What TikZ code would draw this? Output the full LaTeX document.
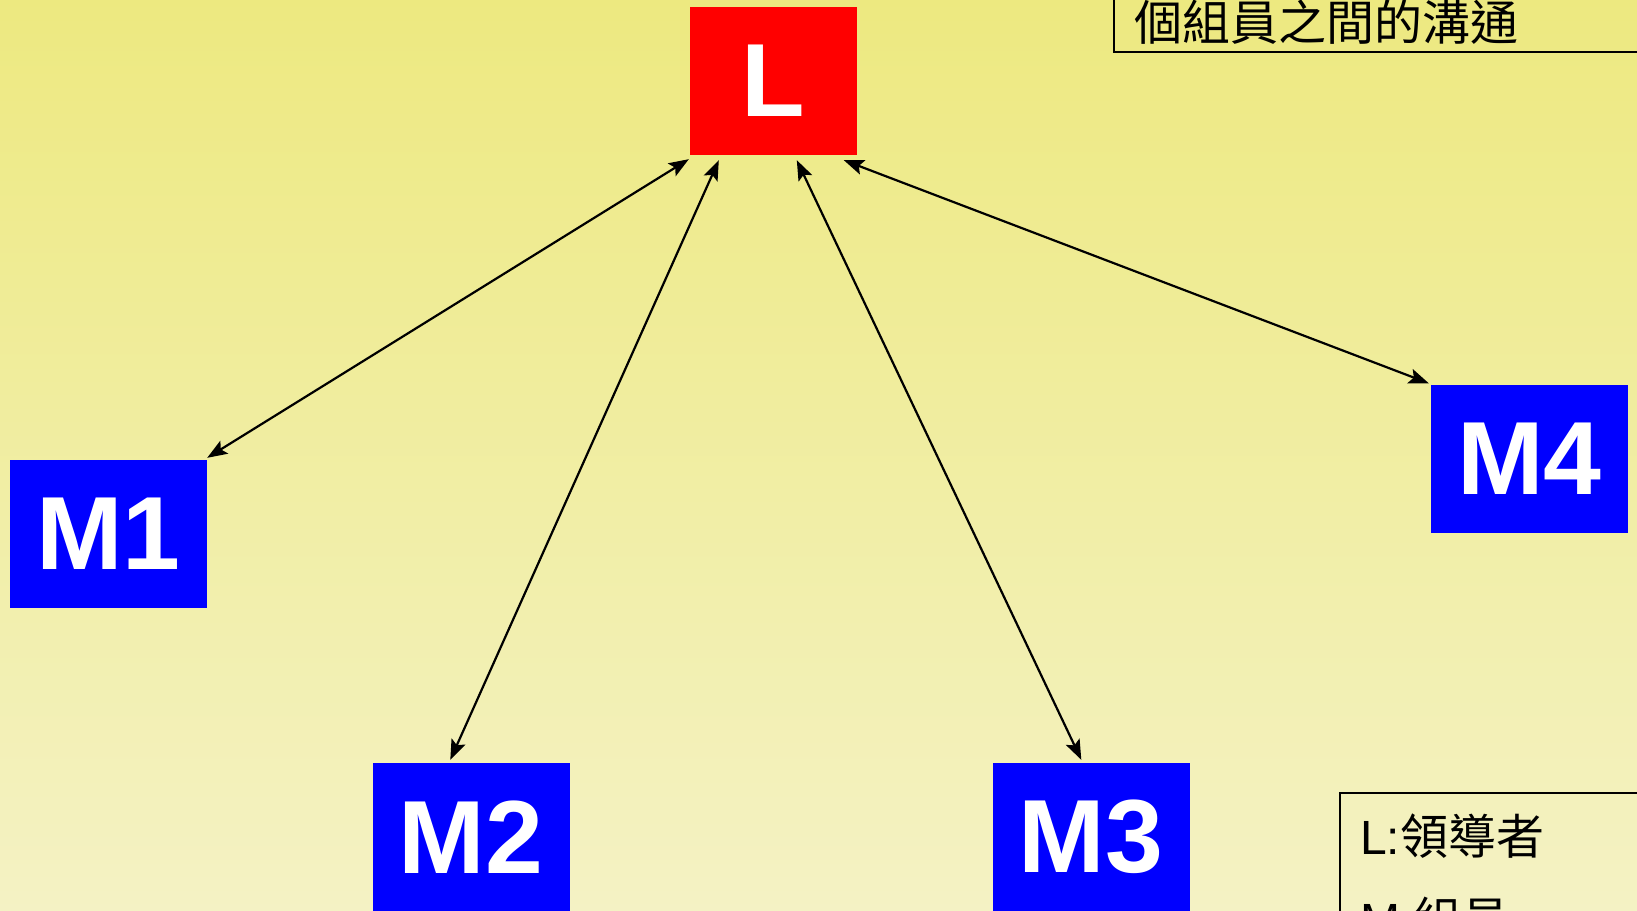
\documentclass[tikz,border=0pt]{standalone}
\usepackage{fontspec}
\setmainfont{Liberation Sans}
\newfontfamily\cjk{Noto Sans CJK TC}
\usetikzlibrary{arrows.meta}

\definecolor{bgtop}{RGB}{237,233,128}
\definecolor{bgbot}{RGB}{244,242,196}

\tikzset{
  member/.style={fill=blue, text=white, minimum width=197pt, minimum height=148pt,
    inner sep=0pt, font=\fontsize{104}{120}\selectfont\bfseries},
  leader/.style={member, fill=red, minimum width=167pt},
  tip/.tip={Stealth[length=20pt,width=15pt,inset=4pt]},
  link/.style={line width=2.2pt, arrows={tip-tip}},
  note/.style={anchor=base west, inner sep=0pt, font=\fontsize{48}{58}\selectfont}
}

\begin{document}
\begin{tikzpicture}[x=1pt,y=-1pt]
\useasboundingbox (0,0) rectangle (1637,910);
\clip (0,0) rectangle (1637,910);
\shade[top color=bgtop, bottom color=bgbot] (0,0) rectangle (1637,910);

% Leader and members.
\node[leader] (L)  at (773.5,81)   {L};
\node[member] (M1) at (108.5,534)  {M1};
\node[member] (M2) at (471,837)    {M2};
\node[member] (M3) at (1091,837)   {M3};
\node[member] (M4) at (1529.5,458.5) {M4};

% Links.
\draw[link] ([xshift=-1pt,yshift=-4pt]L.south west) -- ([yshift=2pt]M1.north east);
\draw[link] ([xshift=29pt,yshift=-5pt]L.south west) -- ([xshift=78pt,yshift=3pt]M2.north west);
\draw[link] ([xshift=107pt,yshift=-5pt]L.south west) -- ([xshift=89pt,yshift=3pt]M3.north west);
\draw[link] ([xshift=154pt,yshift=-5pt]L.south west) -- ([xshift=-2pt,yshift=1pt]M4.north west);

% Notes.
\draw[line width=2pt] (1114,-20) -- (1114,52) -- (1660,52);
\node[note] (top) at (1134,40) {\cjk 個組員之間的溝通};

\draw[line width=2pt] (1340,930) -- (1340,793) -- (1660,793);
\node[note] (key1) at (1360,854) {L:\cjk 領導者};
\node[note] (key2) at (1360,937) {M:\cjk 組員};
\end{tikzpicture}
\end{document}
